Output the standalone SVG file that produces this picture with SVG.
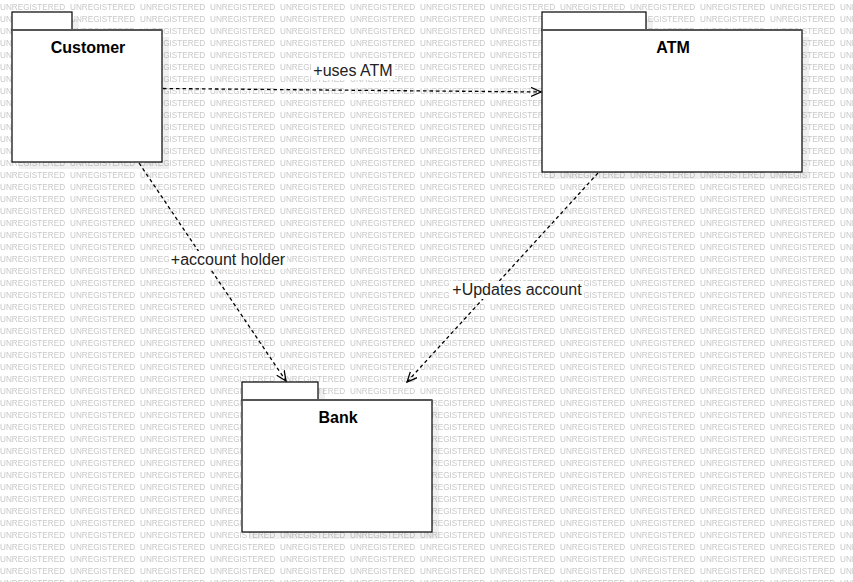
<svg xmlns="http://www.w3.org/2000/svg" width="853" height="582" viewBox="0 0 853 582">
  <style>
    .wm { font-family: "Liberation Sans", Arial, sans-serif; font-size: 8.2px; fill: #c8c8c8; }
    .pkg { fill: #ffffff; stroke: #000000; stroke-width: 1.2; }
    .pkgtop { stroke: #555555; stroke-width: 2; }
    .shadow { fill: #000000; fill-opacity: 0.06; }
    .name { font-family: "Liberation Sans", Arial, sans-serif; font-size: 16px; font-weight: bold; fill: #000000; text-anchor: middle; }
    .edge { fill: none; stroke: #000000; stroke-width: 1.3; stroke-dasharray: 3.5 3; }
    .lbl { font-family: "Liberation Sans", Arial, sans-serif; font-size: 16px; fill: #222222; text-anchor: middle; }
    .lblbg { fill: #ffffff; }
  </style>
  <defs>
    <pattern id="wmp" x="0" y="0" width="70" height="12" patternUnits="userSpaceOnUse">
      <text class="wm" x="0" y="10">UNREGISTERED</text>
    </pattern>
    <marker id="openArrow" markerWidth="12" markerHeight="12" refX="10" refY="5" orient="auto" markerUnits="userSpaceOnUse">
      <path d="M0,0.5 L10,5 L0,9.5" fill="none" stroke="#000000" stroke-width="1.3"/>
    </marker>
  </defs>

  <rect x="0" y="0" width="853" height="582" fill="#ffffff"/>
  <rect x="0" y="0" width="853" height="582" fill="url(#wmp)"/>

  <g id="Customer">
    <rect class="shadow" x="19" y="19" width="60" height="18"/>
    <rect class="shadow" x="19" y="37" width="150" height="132"/>
    <rect class="pkg" x="12" y="12" width="60" height="18"/>
    <rect class="pkg" x="12" y="30" width="150" height="132"/>
    <line class="pkgtop" x1="12" y1="30" x2="162" y2="30"/>
    <text class="name" x="88" y="53">Customer</text>
  </g>

  <g id="ATM">
    <rect class="shadow" x="549" y="19" width="104" height="18"/>
    <rect class="shadow" x="549" y="37" width="260" height="142"/>
    <rect class="pkg" x="542" y="12" width="104" height="18"/>
    <rect class="pkg" x="542" y="30" width="260" height="142"/>
    <line class="pkgtop" x1="542" y1="30" x2="802" y2="30"/>
    <text class="name" x="673" y="53">ATM</text>
  </g>

  <g id="Bank">
    <rect class="shadow" x="249" y="389" width="76" height="18"/>
    <rect class="shadow" x="249" y="407" width="190" height="132"/>
    <rect class="pkg" x="242" y="382" width="76" height="18"/>
    <rect class="pkg" x="242" y="400" width="190" height="132"/>
    <line class="pkgtop" x1="242" y1="400" x2="432" y2="400"/>
    <text class="name" x="338" y="423">Bank</text>
  </g>

  <g id="connectors">
    <path class="edge" d="M163,88.5 L541,92" marker-end="url(#openArrow)"/>
    <path class="edge" d="M139,163 L286,381" marker-end="url(#openArrow)"/>
    <path class="edge" d="M598,173 L407,382" marker-end="url(#openArrow)"/>

    <rect class="lblbg" x="311" y="62" width="84" height="18"/>
    <text class="lbl" x="353" y="76">+uses ATM</text>
    <rect class="lblbg" x="169" y="251" width="118" height="18"/>
    <text class="lbl" x="228" y="265">+account holder</text>
    <rect class="lblbg" x="450" y="281" width="134" height="18"/>
    <text class="lbl" x="517" y="295">+Updates account</text>
  </g>
</svg>
